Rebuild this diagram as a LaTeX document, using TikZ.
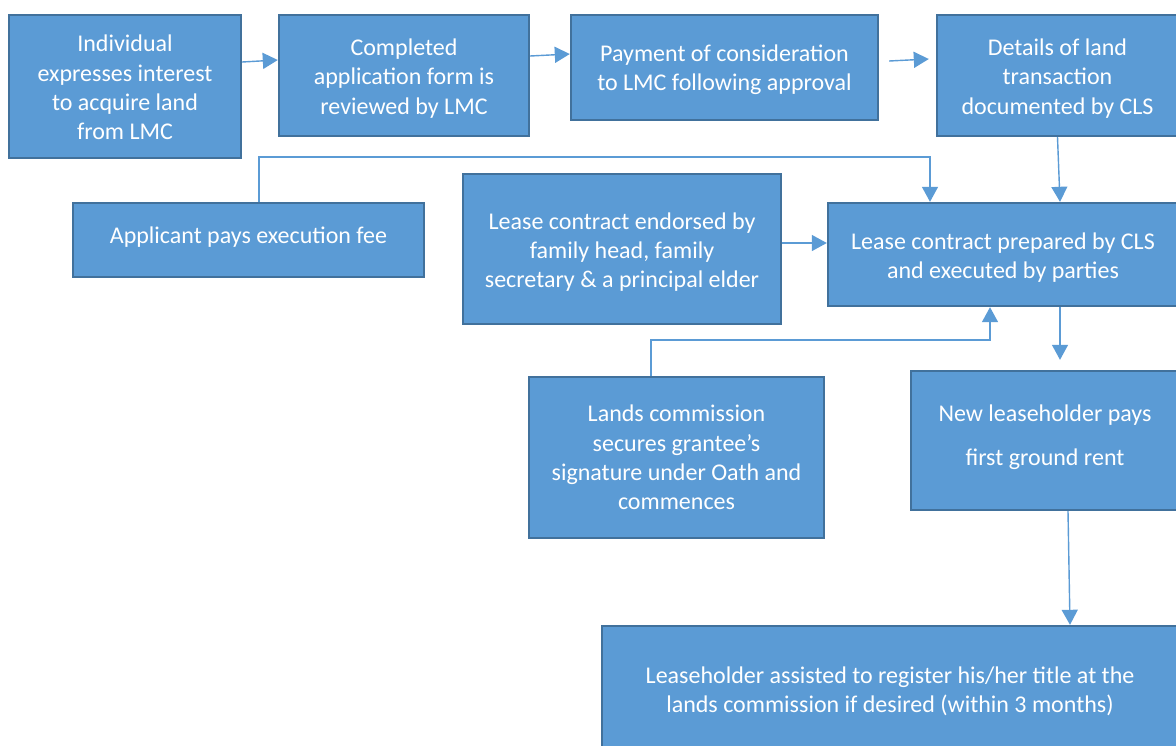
\documentclass[tikz,border=0pt]{standalone}
\usepackage{fontspec}
\setmainfont{Carlito}
\usetikzlibrary{arrows.meta}
\definecolor{boxfill}{HTML}{5B9BD5}
\definecolor{boxline}{HTML}{41719C}
\definecolor{linkcol}{HTML}{5B9BD5}
\tikzset{
  stepbox/.style={draw=boxline, line width=2.4pt, fill=boxfill, inner sep=0pt},
  steptext/.style={text=white, align=center, inner sep=0pt,
    font=\fontsize{24}{29.3}\selectfont},
  conn/.style={draw=linkcol, line width=1.4pt,
    -{Triangle[length=15pt,width=16pt]}},
}
\begin{document}
\begin{tikzpicture}[x=1pt,y=-1pt]
\useasboundingbox (0,0) rectangle (1176,745);
\clip (0,0) rectangle (1176,745);
\fill[white] (0,0) rectangle (1176,745);

% process step boxes
\node[stepbox, minimum width=232pt, minimum height=143pt] (n1) at (125,86.5) {};
\node[stepbox, minimum width=250pt, minimum height=121pt] (n2) at (404,75.5) {};
\node[stepbox, minimum width=307pt, minimum height=105pt] (n3) at (724.5,67.5) {};
\node[stepbox, minimum width=241pt, minimum height=121pt] (n4) at (1057.5,75.5) {};
\node[stepbox, minimum width=351pt, minimum height=74pt] (n5) at (248.5,240) {};
\node[stepbox, minimum width=318pt, minimum height=150pt] (n6) at (622,249) {};
\node[stepbox, minimum width=350pt, minimum height=103pt] (n7) at (1003,254.5) {};
\node[stepbox, minimum width=295pt, minimum height=161pt] (n8) at (676.5,457.5) {};
\node[stepbox, minimum width=268pt, minimum height=139pt] (n9) at (1045,440.5) {};
\node[stepbox, minimum width=576pt, minimum height=124pt] (n10) at (890,688) {};

% step labels
\node[steptext] (t1) at ([yshift=-1pt]n1.center)
  {Individual\\expresses interest\\to acquire land\\from LMC};
\node[steptext] (t2) at ([yshift=-3pt]n2.center)
  {Completed\\application form is\\reviewed by LMC};
\node[steptext] (t3) at ([yshift=-2.5pt]n3.center)
  {Payment of consideration\\to LMC following approval};
\node[steptext] (t4) at ([yshift=-3pt]n4.center)
  {Details of land\\transaction\\documented by CLS};
\node[steptext] (t5) at ([yshift=3pt]n5.center)
  {Applicant pays execution fee};
\node[steptext] (t6) at ([yshift=-3pt]n6.center)
  {Lease contract endorsed by\\family head, family\\secretary \& a principal elder};
\node[steptext] (t7) at ([yshift=-3pt]n7.center)
  {Lease contract prepared by CLS\\and executed by parties};
\node[steptext] (t8) at (n8.center)
  {Lands commission\\secures grantee’s\\signature under Oath and\\commences};
\node[steptext, font=\fontsize{24}{44}\selectfont] (t9) at ([yshift=3pt]n9.center)
  {New leaseholder pays\\first ground rent};
\node[steptext] (t10) at ([yshift=-3pt]n10.center)
  {Leaseholder assisted to register his/her title at the\\lands commission if desired (within 3 months)};

% connectors
\draw[conn] ([yshift=24.5pt]n1.east) -- ([yshift=15.5pt]n2.west);
\draw[conn] ([yshift=19.5pt]n2.east) -- ([yshift=13.5pt]n3.west);
\draw[conn] ([xshift=10pt,yshift=6.5pt]n3.east) -- ([xshift=-7pt,yshift=16.5pt]n4.west);
\draw[conn] (n4.south) -- ([xshift=57pt]n7.north);
\draw[conn] ([xshift=10.5pt]n5.north) -- ++(0,-45) -| ([xshift=-73pt]n7.north);
\draw[conn] ([yshift=6pt]n6.east) -- ([yshift=6pt]n6.east -| n7.west);
\draw[conn] ([xshift=-25.5pt]n8.north) -- ++(0,-36) -| ([xshift=-13pt]n7.south);
\draw[conn] ([xshift=57pt]n7.south) -- ([xshift=15pt,yshift=10pt]n9.north);
\draw[conn] ([xshift=23pt]n9.south) -- ([xshift=180pt]n10.north);
\end{tikzpicture}
\end{document}
